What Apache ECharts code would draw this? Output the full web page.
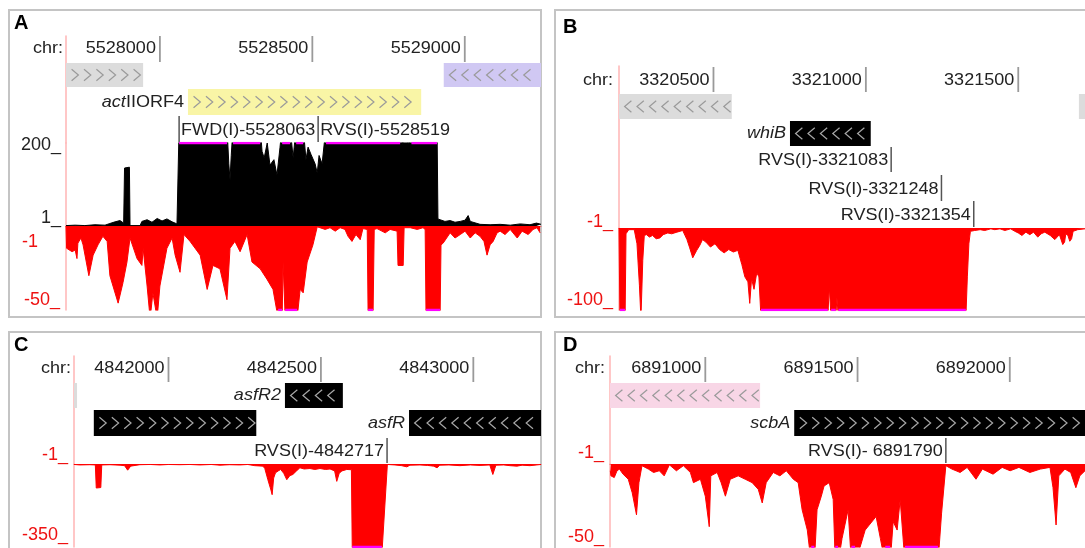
<!DOCTYPE html>
<html><head><meta charset="utf-8">
<script src="https://cdn.jsdelivr.net/npm/echarts@6/dist/echarts.min.js"></script>
<style>html,body{margin:0;padding:0;background:#fff}#c{width:1085px;height:548px}</style>
</head><body><div id="c"></div>
<script>
// ================= DATA =================
// Panel A
const rangeA = [5527692, 5529250];
const ticksA = [5528000, 5528500, 5529000];
const genesA = [[5527600, 5527945, '+', ''], [5528931, 5529400, '-', ''], [5528092, 5528857, '+', 'actIIORF4']];
const markersA = [[5528063, 'FWD(I)-5528063'], [5528519, 'RVS(I)-5528519']];
const fwdScaleA = [1, 200];
const rvsScaleA = [-50, -1];
const fwdA = [[5527692,2],[5527722,3],[5527754,2],[5527787,4],[5527820,3],[5527836,7],[5527853,11],[5527869,14],[5527879,9],[5527881,2],[5527884,140],[5527900,142],[5527902,2],[5527935,2],[5527941,12],[5527958,16],[5527974,10],[5527991,19],[5528007,13],[5528023,18],[5528040,11],[5528056,6],[5528061,6],[5528063,240],[5528220,240],[5528226,150],[5528230,112],[5528234,170],[5528240,240],[5528329,240],[5528335,180],[5528342,164],[5528352,200],[5528361,147],[5528374,160],[5528384,123],[5528394,190],[5528401,240],[5528427,240],[5528437,164],[5528447,240],[5528470,240],[5528479,160],[5528486,190],[5528496,172],[5528509,150],[5528516,128],[5528522,170],[5528532,150],[5528545,240],[5528788,240],[5528796,196],[5528804,240],[5528816,195],[5528825,240],[5528909,240],[5528912,18],[5528919,16],[5528935,12],[5528952,14],[5528968,10],[5528985,12],[5529001,15],[5529011,26],[5529018,12],[5529024,8],[5529050,5],[5529083,4],[5529116,5],[5529149,3],[5529182,6],[5529214,4],[5529235,8],[5529250,5]];
const rvsA = [[5527692,-1],[5527694,-14],[5527699,-15],[5527712,-16],[5527722,-15],[5527728,-20],[5527731,-11],[5527741,-8],[5527748,-12],[5527767,-30],[5527781,-18],[5527797,-12],[5527813,-7],[5527827,-10],[5527836,-30],[5527863,-46],[5527879,-34],[5527892,-22],[5527902,-8],[5527925,-20],[5527941,-24],[5527945,-14],[5527958,-36],[5527968,-55],[5527977,-40],[5527991,-55],[5528000,-36],[5528023,-14],[5528040,-8],[5528050,-18],[5528066,-28],[5528079,-6],[5528099,-10],[5528132,-18],[5528155,-38],[5528174,-24],[5528197,-26],[5528220,-44],[5528230,-14],[5528246,-10],[5528263,-16],[5528286,-6],[5528302,-22],[5528329,-26],[5528351,-32],[5528371,-38],[5528388,-55],[5528401,-55],[5528404,-22],[5528411,-55],[5528450,-55],[5528460,-38],[5528470,-40],[5528483,-22],[5528502,-12],[5528516,-1.5],[5528525,-2],[5528542,-3],[5528558,-2],[5528575,-4],[5528591,-2],[5528607,-3],[5528617,-7],[5528630,-10],[5528643,-6],[5528657,-9],[5528666,-2.5],[5528680,-3],[5528683,-55],[5528699,-55],[5528703,-3],[5528712,-2.5],[5528739,-5],[5528755,-3],[5528778,-4],[5528781,-24],[5528798,-24],[5528801,-2],[5528821,-2],[5528844,-3],[5528863,-2],[5528870,-3],[5528873,-55],[5528919,-55],[5528922,-12],[5528929,-11],[5528952,-5],[5528968,-8],[5528985,-6],[5529001,-4],[5529018,-8],[5529034,-5],[5529050,-7],[5529063,-10],[5529073,-18],[5529083,-12],[5529093,-10],[5529106,-5],[5529116,-4],[5529132,-6],[5529149,-3],[5529172,-8],[5529188,-4],[5529208,-6],[5529224,-3],[5529237,-2],[5529247,-5]];

// Panel B
const rangeB = [3320190, 3321719];
const ticksB = [3320500, 3321000, 3321500];
const genesB = [[3320100, 3320560, '-', ''], [3321699, 3321900, '+', ''], [3320751, 3321016, '-', 'whiB']];
const markersB = [[3321083, 'RVS(I)-3321083'], [3321248, 'RVS(I)-3321248'], [3321354, 'RVS(I)-3321354']];
const rvsScaleB = [-100, -1];
const rvsB = [[3320190,-1],[3320193,-110],[3320210,-110],[3320213,-8],[3320222,-3],[3320240,-3],[3320249,-20],[3320257,-70],[3320262,-110],[3320268,-40],[3320273,-10],[3320280,-9],[3320290,-12],[3320300,-10],[3320312,-14],[3320324,-13],[3320335,-9],[3320350,-7],[3320363,-8],[3320380,-6],[3320399,-4],[3320413,-15],[3320422,-25],[3320432,-37],[3320445,-28],[3320455,-22],[3320464,-15],[3320475,-18],[3320490,-24],[3320505,-20],[3320520,-27],[3320535,-31],[3320550,-27],[3320565,-30],[3320580,-28],[3320593,-45],[3320603,-60],[3320613,-66],[3320619,-92],[3320625,-62],[3320633,-75],[3320642,-55],[3320649,-60],[3320654,-58],[3320656,-110],[3320875,-110],[3320880,-72],[3320886,-110],[3320901,-110],[3320905,-85],[3320910,-110],[3321328,-110],[3321333,-60],[3321338,-20],[3321343,-5],[3321348,-3],[3321357,-4],[3321375,-3],[3321390,-4],[3321410,-2],[3321423,-3],[3321440,-2],[3321456,-4],[3321475,-2],[3321489,-5],[3321500,-7],[3321512,-10],[3321525,-6],[3321538,-9],[3321550,-6],[3321564,-12],[3321575,-8],[3321587,-6],[3321605,-10],[3321620,-15],[3321635,-9],[3321646,-21],[3321652,-18],[3321656,-8],[3321663,-10],[3321669,-17],[3321675,-14],[3321680,-5],[3321695,-3],[3321719,-2]];

// Panel C
const rangeC = [4841690, 4843222];
const ticksC = [4842000, 4842500, 4843000];
const genesC = [[4841600, 4841700, '+', ''], [4842382, 4842572, '-', 'asfR2'], [4841755, 4842288, '+', ''], [4842789, 4843400, '-', 'asfR']];
const markersC = [[4842717, 'RVS(I)-4842717']];
const rvsScaleC = [-350, -1];
const rvsC = [[4841690,-3],[4841709,-5],[4841742,-4],[4841760,-5],[4841763,-102],[4841778,-100],[4841781,-5],[4841808,-4],[4841841,-6],[4841856,-8],[4841866,-27],[4841876,-10],[4841906,-4],[4841940,-3],[4841972,-5],[4842000,-3],[4842037,-4],[4842070,-3],[4842103,-5],[4842140,-3],[4842169,-6],[4842200,-4],[4842234,-5],[4842260,-3],[4842283,-8],[4842310,-10],[4842316,-20],[4842326,-67],[4842336,-110],[4842340,-130],[4842345,-60],[4842351,-38],[4842360,-30],[4842368,-24],[4842378,-40],[4842388,-67],[4842398,-50],[4842408,-45],[4842420,-30],[4842431,-17],[4842445,-22],[4842464,-20],[4842480,-24],[4842497,-20],[4842515,-24],[4842530,-22],[4842545,-30],[4842552,-74],[4842560,-40],[4842569,-30],[4842585,-24],[4842600,-25],[4842603,-380],[4842700,-380],[4842718,-3],[4842743,-5],[4842765,-8],[4842782,-13],[4842792,-6],[4842825,-5],[4842850,-7],[4842870,-10],[4842881,-17],[4842890,-6],[4842920,-5],[4842956,-8],[4842990,-5],[4843022,-7],[4843054,-5],[4843064,-45],[4843074,-6],[4843100,-5],[4843120,-8],[4843143,-10],[4843160,-6],[4843186,-8],[4843222,-3]];

// Panel D
const rangeD = [6890687, 6892247];
const ticksD = [6891000, 6891500, 6892000];
const genesD = [[6890600, 6891180, '-', ''], [6891292, 6892400, '+', 'scbA']];
const markersD = [[6891790, 'RVS(I)- 6891790']];
const rvsScaleD = [-50, -1];
const rvsD = [[6890688,-5],[6890690,-8],[6890701,-9],[6890710,-5],[6890718,-4],[6890730,-7],[6890747,-10],[6890760,-18],[6890774,-31],[6890782,-12],[6890792,-2],[6890813,-4],[6890830,-6],[6890849,-5],[6890865,-8],[6890882,-1.5],[6890905,-5],[6890928,-2],[6890951,-6],[6890961,-12],[6890984,-10],[6891000,-20],[6891013,-38],[6891018,-8],[6891039,-6],[6891052,-12],[6891066,-20],[6891082,-10],[6891108,-8],[6891131,-10],[6891154,-12],[6891174,-16],[6891187,-24],[6891200,-12],[6891223,-6],[6891245,-8],[6891266,-5],[6891289,-10],[6891305,-12],[6891318,-28],[6891335,-40],[6891348,-60],[6891358,-60],[6891367,-28],[6891381,-20],[6891390,-14],[6891407,-12],[6891420,-22],[6891427,-60],[6891436,-60],[6891449,-45],[6891469,-28],[6891480,-60],[6891492,-60],[6891525,-40],[6891561,-32],[6891575,-45],[6891591,-60],[6891607,-60],[6891617,-35],[6891630,-40],[6891640,-22],[6891656,-60],[6891764,-60],[6891776,-30],[6891790,-2],[6891810,-4],[6891837,-6],[6891860,-3],[6891889,-10],[6891910,-4],[6891945,-7],[6891975,-3],[6892001,-5],[6892030,-3],[6892066,-6],[6892100,-4],[6892132,-3],[6892142,-15],[6892152,-37],[6892161,-8],[6892181,-4],[6892200,-6],[6892217,-15],[6892230,-8],[6892247,-5]];

// ================= LAYOUT / STYLE =================
const FONT = '"Liberation Sans", Arial, sans-serif';
const TXT = '17px ' + FONT;
const SX = 1.06; // slight horizontal stretch of the reference lettering
const PANELS = [
  { letter:'A', range:rangeA, ticks:ticksA, genes:genesA, markers:markersA, fwd:fwdA, rvs:rvsA, fwdScale:fwdScaleA, rvsScale:rvsScaleA,
    box:[9,10,532,307], letterPos:[14,23], chrPos:[63,48], tickY:[36,62], annTop:36, left:66, right:541,
    rows:[[63,87],[89,115]], geneRow:[0,0,1], geneFill:['#dcdcdc','#d0c8f3','#f9f5a6'],
    markerRows:[[116,142],[116,142]], markerSide:['right','right'],
    fwdTrack:[143,226], rvsTrack:[226,310],
    fwdPad:{max:[4,0,0,0], min:[0,0,16,0]}, rvsPad:{max:[32,22,0,0], min:[0,0,20,0]}, rvsTopText:'-1' },
  { letter:'B', range:rangeB, ticks:ticksB, genes:genesB, markers:markersB, rvs:rvsB, rvsScale:rvsScaleB,
    box:[555,10,540,307], letterPos:[563,27], chrPos:[613,80], tickY:[67,92], annTop:66, left:619, right:1085,
    rows:[[94,119],[121,146]], geneRow:[0,0,1], geneFill:['#dcdcdc','#dcdcdc','#000'],
    markerRows:[[147,172],[175,201],[201,227]], markerSide:['left','left','left'],
    rvsTrack:[228,310], rvsPad:{max:[0,0,12,0], min:[0,0,20,0]}, rvsTopText:'-1_' },
  { letter:'C', range:rangeC, ticks:ticksC, genes:genesC, markers:markersC, rvs:rvsC, rvsScale:rvsScaleC,
    box:[9,332,532,230], letterPos:[14,345], chrPos:[71,368], tickY:[357,382], annTop:356, left:74, right:541,
    rows:[[383,408],[410,436]], geneRow:[0,0,1,1], geneFill:['#dcdcdc','#000','#000','#000'],
    markerRows:[[438,463]], markerSide:['left'],
    rvsTrack:[464,547], rvsPad:{max:[0,0,18,0], min:[0,0,24,0]}, rvsTopText:'-1_' },
  { letter:'D', range:rangeD, ticks:ticksD, genes:genesD, markers:markersD, rvs:rvsD, rvsScale:rvsScaleD,
    box:[555,332,540,230], letterPos:[563,345], chrPos:[605,368], tickY:[357,382], annTop:356, left:610, right:1085,
    rows:[[383,408],[410,436]], geneRow:[0,1], geneFill:['#f8d6e6','#000'],
    markerRows:[[438,463]], markerSide:['left'],
    rvsTrack:[464,547], rvsPad:{max:[0,0,22,0], min:[0,0,20,0]}, rvsTopText:'-1_' }
];

function labelMarkup(name) {
  if (name === 'actIIORF4') return '{i|act}{n|IIORF4}';
  return '{i|' + name + '}';
}
const RICH = { i:{fontStyle:'italic', fontSize:17, fontFamily:FONT, fill:'#222', color:'#222'}, n:{fontSize:17, fontFamily:FONT, fill:'#222', color:'#222'} };

function stretchedText(x, y, text, align, extra) {
  return Object.assign({type:'text', x:x, y:y, scaleX:SX,
    style:Object.assign({text:text, x:0, y:0, align:align, verticalAlign:'middle', font:TXT, fill:'#222'}, extra || {})});
}

const grids = [], xAxes = [], yAxes = [], series = [], graphics = [];

PANELS.forEach(P => {
  graphics.push({type:'rect', shape:{x:P.box[0], y:P.box[1], width:P.box[2], height:P.box[3]}, style:{fill:null, stroke:'#c4c4c4', lineWidth:2}, silent:true});
  graphics.push({type:'text', x:P.letterPos[0], y:P.letterPos[1], style:{text:P.letter, x:0, y:0, verticalAlign:'middle', font:'bold 20px ' + FONT, fill:'#000'}});
  graphics.push(stretchedText(P.chrPos[0], P.chrPos[1], 'chr:', 'right'));

  const width = P.right - P.left;
  const pinkAxis = {show:true, onZero:false, lineStyle:{color:'#ffb4b4', width:1.5}};

  // ---- annotation grid ----
  const firstTrackTop = P.fwdTrack ? P.fwdTrack[0] : P.rvsTrack[0];
  const gAnn = grids.length;
  grids.push({left:P.left, top:P.annTop, width:width, height:firstTrackTop - P.annTop});
  xAxes.push({type:'value', gridIndex:gAnn, min:P.range[0], max:P.range[1], show:false});
  yAxes.push({type:'value', gridIndex:gAnn, min:0, max:1, axisLine:pinkAxis, axisTick:{show:false}, axisLabel:{show:false}, splitLine:{show:false}});

  // ruler
  series.push({type:'custom', xAxisIndex:gAnn, yAxisIndex:gAnn, clip:true, silent:true, animation:false,
    data:P.ticks.map(t => [t, 0]),
    renderItem:(params, api) => {
      const v = api.value(0);
      const x = api.coord([v, 0])[0];
      return {type:'group', children:[
        {type:'line', shape:{x1:x, y1:P.tickY[0], x2:x, y2:P.tickY[1]}, style:{stroke:'#9a9a9a', lineWidth:1.8}},
        stretchedText(x - 4, P.chrPos[1], String(v), 'right')
      ]};
    }});

  // genes
  series.push({type:'custom', xAxisIndex:gAnn, yAxisIndex:gAnn, clip:true, silent:true, animation:false,
    data:P.genes.map((g, i) => [g[0], g[1], i]),
    renderItem:(params, api) => {
      const i = params.dataIndex;
      const g = P.genes[i];
      const cs = params.coordSys;
      const x1 = api.coord([g[0], 0])[0], x2 = api.coord([g[1], 0])[0];
      const vx1 = Math.max(x1, cs.x), vx2 = Math.min(x2, cs.x + cs.width);
      const row = P.rows[P.geneRow[i]];
      const fill = P.geneFill[i];
      const kids = [{type:'rect', shape:{x:vx1, y:row[0], width:Math.max(0, vx2 - vx1), height:row[1] - row[0]}, style:{fill:fill}}];
      const cy = (row[0] + row[1]) / 2, h = 5.8, w = 3.4, d = g[2] === '+' ? 1 : -1;
      const chev = fill === '#000' ? '#a8a8a8' : '#9a9a9a';
      if (vx2 - vx1 > 14) {
        for (let cx = vx1 + 9; cx < vx2 - 3; cx += 12.4) {
          kids.push({type:'polyline', shape:{points:[[cx - d*w, cy - h], [cx + d*w, cy], [cx - d*w, cy + h]]}, style:{stroke:chev, lineWidth:1.2, fill:null}});
        }
      }
      if (g[3]) {
        kids.push(stretchedText(x1 - 4, cy, labelMarkup(g[3]), 'right', {rich:RICH}));
      }
      return {type:'group', children:kids};
    }});

  // markers
  series.push({type:'custom', xAxisIndex:gAnn, yAxisIndex:gAnn, clip:false, silent:true, animation:false,
    data:P.markers.map((m, i) => [m[0], i]),
    renderItem:(params, api) => {
      const i = params.dataIndex;
      const m = P.markers[i];
      const x = api.coord([m[0], 0])[0];
      const r = P.markerRows[i];
      const right = P.markerSide[i] === 'right';
      return {type:'group', children:[
        {type:'line', shape:{x1:x, y1:r[0], x2:x, y2:r[1]}, style:{stroke:'#555', lineWidth:1.5}},
        stretchedText(right ? x + 2 : x - 3, (r[0] + r[1]) / 2 + 1, m[1], right ? 'left' : 'right')
      ]};
    }});

  // ---- forward (black) track ----
  if (P.fwd) {
    const gi = grids.length;
    const [lo, hi] = P.fwdScale;
    grids.push({left:P.left, top:P.fwdTrack[0], width:width, height:P.fwdTrack[1] - P.fwdTrack[0]});
    xAxes.push({type:'value', gridIndex:gi, min:P.range[0], max:P.range[1], show:false});
    yAxes.push({type:'value', gridIndex:gi, min:lo, max:hi, axisLine:pinkAxis, axisTick:{show:false}, splitLine:{show:false},
      axisLabel:{show:true, customValues:[lo, hi], margin:5, color:'#222', fontSize:18, fontFamily:FONT, showMinLabel:true, showMaxLabel:true,
        formatter:v => v === hi ? '{t|' + hi + '_}' : '{b|' + lo + '_}',
        rich:{t:{padding:P.fwdPad.max, fontSize:18, fontFamily:FONT, color:'#222'}, b:{padding:P.fwdPad.min, fontSize:18, fontFamily:FONT, color:'#222'}}}});
    series.push({type:'line', xAxisIndex:gi, yAxisIndex:gi, data:P.fwd, symbol:'none', silent:true, animation:false,
      lineStyle:{color:'#000', width:1}, areaStyle:{color:'#000', opacity:1, origin:'start'}});
    series.push({type:'line', xAxisIndex:gi, yAxisIndex:gi, data:P.fwd.map(p => [p[0], p[1] > hi ? hi : null]), symbol:'none', silent:true, animation:false,
      connectNulls:false, lineStyle:{color:'#ff00ff', width:2.5}});
  }

  // ---- reverse (red) track ----
  {
    const gi = grids.length;
    const [lo, hi] = P.rvsScale;
    grids.push({left:P.left, top:P.rvsTrack[0], width:width, height:P.rvsTrack[1] - P.rvsTrack[0]});
    xAxes.push({type:'value', gridIndex:gi, min:P.range[0], max:P.range[1], position:'top',
      axisLine:{show:true, onZero:false, lineStyle:{color:'#f07070', width:1}}, axisTick:{show:false}, axisLabel:{show:false}, splitLine:{show:false}});
    yAxes.push({type:'value', gridIndex:gi, min:lo, max:hi, axisLine:pinkAxis, axisTick:{show:false}, splitLine:{show:false},
      axisLabel:{show:true, customValues:[lo, hi], margin:6, color:'#ee1111', fontSize:18, fontFamily:FONT, showMinLabel:true, showMaxLabel:true,
        formatter:v => v === hi ? '{t|' + P.rvsTopText + '}' : '{b|' + lo + '_}',
        rich:{t:{padding:P.rvsPad.max, fontSize:18, fontFamily:FONT, color:'#ee1111'}, b:{padding:P.rvsPad.min, fontSize:18, fontFamily:FONT, color:'#ee1111'}}}});
    series.push({type:'line', xAxisIndex:gi, yAxisIndex:gi, data:P.rvs, symbol:'none', silent:true, animation:false,
      lineStyle:{color:'#ff0000', width:1}, areaStyle:{color:'#ff0000', opacity:1, origin:'end'}});
    series.push({type:'line', xAxisIndex:gi, yAxisIndex:gi, data:P.rvs.map(p => [p[0], p[1] < lo ? lo : null]), symbol:'none', silent:true, animation:false,
      connectNulls:false, lineStyle:{color:'#ff00ff', width:2.5}});
  }
});

const chart = echarts.init(document.getElementById('c'), null, {renderer:'canvas'});
chart.setOption({
  backgroundColor:'#fff',
  animation:false,
  grid:grids, xAxis:xAxes, yAxis:yAxes, series:series,
  graphic:{elements:graphics}
});
</script>
</body></html>
